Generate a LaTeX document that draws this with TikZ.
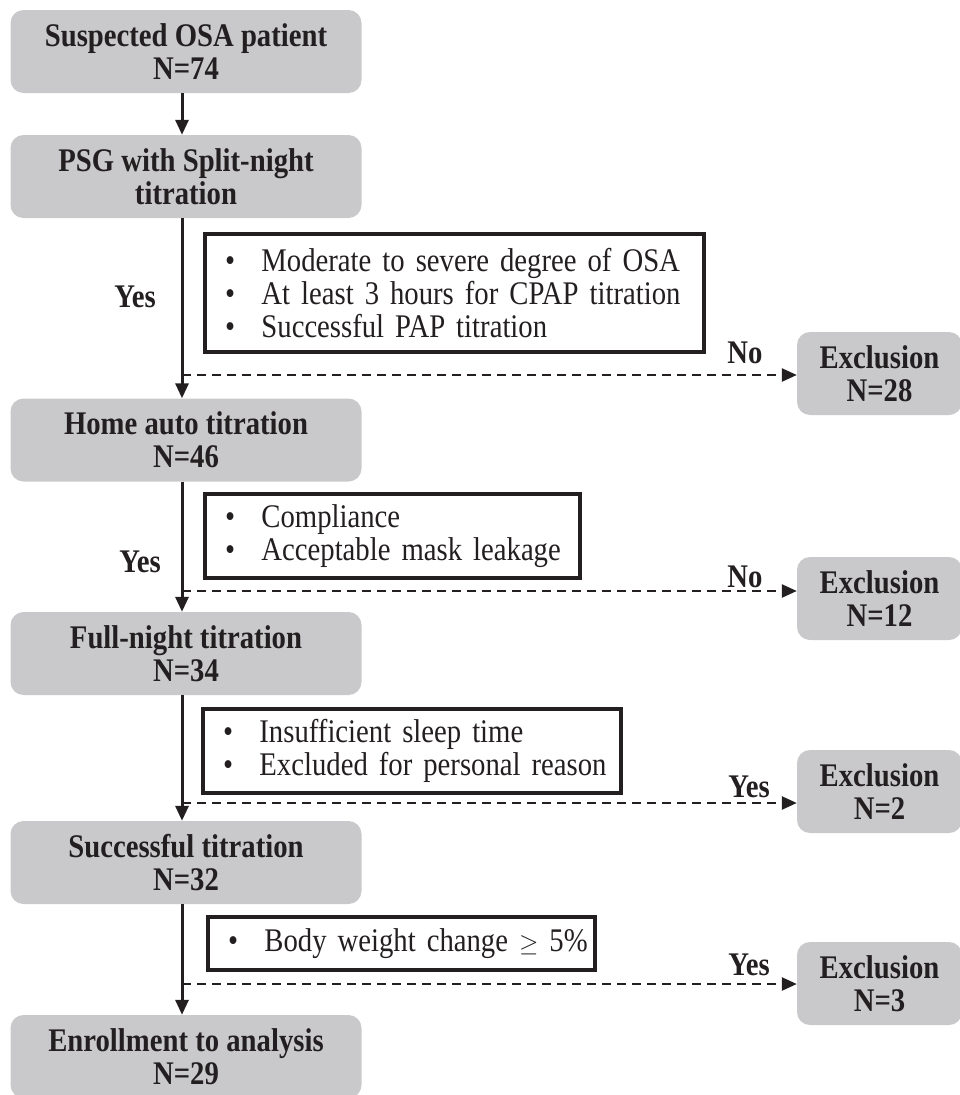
\documentclass[tikz,border=0pt]{standalone}
\usepackage{fontspec}
\setmainfont{Liberation Serif}[FakeStretch=0.87]
\usetikzlibrary{arrows.meta,positioning}
\definecolor{boxgray}{RGB}{201,201,203}
\definecolor{inkk}{RGB}{35,31,32}
\newcommand{\bul}[1]{\mbox{\textbullet\hspace{0.8em}#1}}
\tikzset{
  stagebox/.style={fill=boxgray,rounded corners=13pt,minimum width=351pt,minimum height=83pt,
    align=center,inner sep=0pt,text=inkk,font=\bfseries\fontsize{33}{33}\selectfont},
  exclbox/.style={stagebox,minimum width=165pt},
  critbox/.style={draw=inkk,line width=4pt,fill=white,anchor=north west,align=left,
    inner xsep=20pt,inner ysep=0pt,text=inkk,font=\fontsize{33}{33}\selectfont},
  flow/.style={draw=inkk,line width=3pt,-{Triangle[length=15pt,width=13pt]}},
  skipflow/.style={draw=inkk,line width=2.5pt,dash pattern=on 9pt off 6pt,-{Triangle[length=15pt,width=13pt]}},
  branch/.style={inner sep=0pt,text=inkk,font=\bfseries\fontsize{33}{33}\selectfont}
}
\begin{document}
\begin{tikzpicture}[x=1pt,y=-1pt]
\useasboundingbox (0,0) rectangle (959,1095);
% main stages
\node[stagebox] (susp)  at (186,51.5)  {Suspected OSA patient\\N=74};
\node[stagebox] (psg)   at (186,176.5) {PSG with Split-night\\titration};
\node[stagebox] (home)  at (186,440)   {Home auto titration\\N=46};
\node[stagebox] (full)  at (186,653.5) {Full-night titration\\N=34};
\node[stagebox] (succ)  at (186,862.5) {Successful titration\\N=32};
\node[stagebox] (enrol) at (186,1056.5){Enrollment to analysis\\N=29};
% exclusions
\node[exclbox] (ex1) at (879.5,373.5) {Exclusion\\N=28};
\node[exclbox] (ex2) at (879.5,598.5) {Exclusion\\N=12};
\node[exclbox] (ex3) at (879.5,791.5) {Exclusion\\N=2};
\node[exclbox] (ex4) at (879.5,983.5) {Exclusion\\N=3};
% criteria
\node[critbox,text width=459pt,minimum height=118pt] (cr1) at (203,232)
  {\bul{Moderate to severe degree of OSA}\\\bul{At least 3 hours for CPAP titration}\\\bul{Successful PAP titration}};
\node[critbox,text width=335pt,minimum height=84pt] (cr2) at (203,492)
  {\bul{Compliance}\\\bul{Acceptable mask leakage}};
\node[critbox,text width=378pt,minimum height=84pt] (cr3) at (201,707)
  {\bul{Insufficient sleep time}\\\bul{Excluded for personal reason}};
\node[critbox,text width=347pt,minimum height=53pt] (cr4) at (206,915)
  {\bul{Body weight change $\geq$ 5\%}};
% flow
\coordinate (sp) at (182,0);
\foreach \a/\b in {susp/psg,psg/home,home/full,full/succ,succ/enrol}
  \draw[flow] (\a.south -| sp) -- (\b.north -| sp);
\foreach \n/\d in {1/375,2/591,3/803,4/984}{
  \coordinate (d\n) at (182,\d);
  \draw[skipflow] (d\n) -- (d\n -| ex\n.west);
}
% branch labels
\node[branch] (yes1) at (135,297) {Yes};
\node[branch] (yes2) at (140,562) {Yes};
\node[branch] (no1)  at (745,353) {No};
\node[branch] (no2)  at (745,577) {No};
\node[branch] (yes3) at (749,787) {Yes};
\node[branch] (yes4) at (749,965) {Yes};
\end{tikzpicture}
\end{document}
